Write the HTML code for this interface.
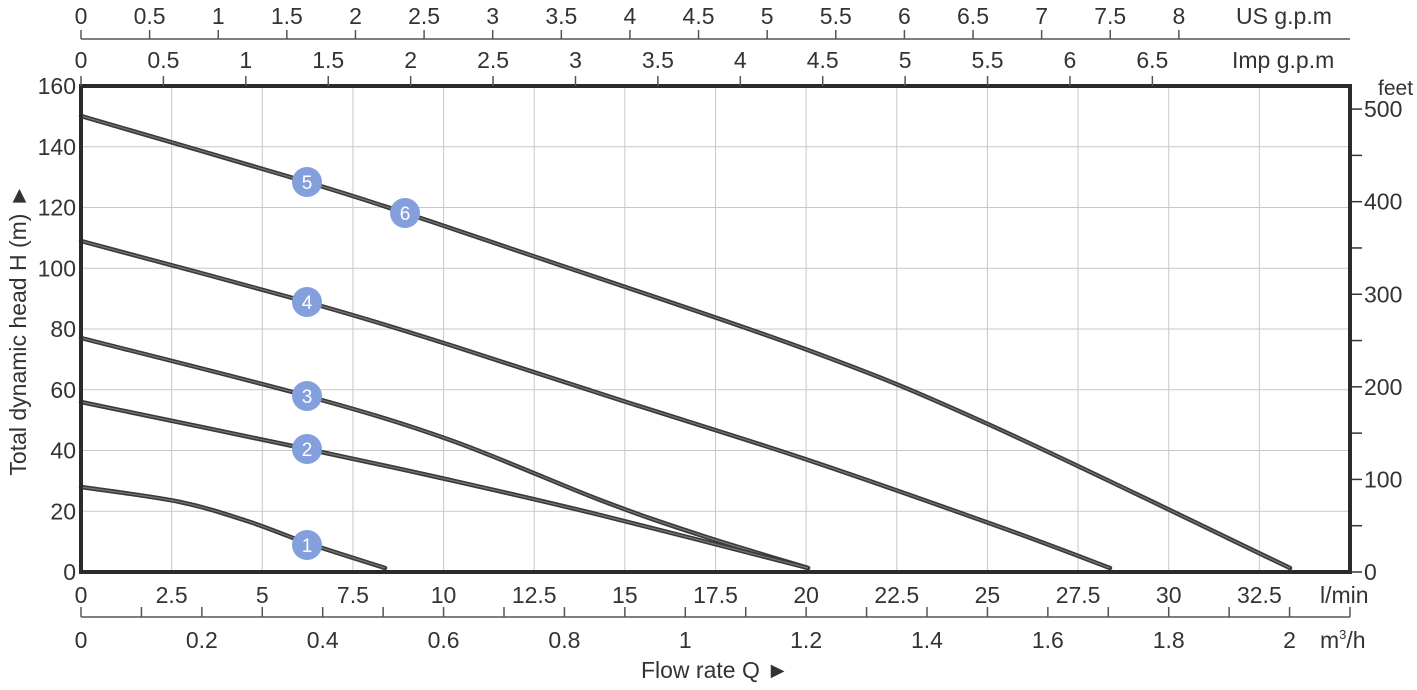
<!DOCTYPE html>
<html><head><meta charset="utf-8"><style>
html,body{margin:0;padding:0;background:#fff}
svg text{font-family:"Liberation Sans",sans-serif;fill:#333}
</style></head><body>
<svg id="s" width="1417" height="685" xmlns="http://www.w3.org/2000/svg"></svg>
<script>
const s=document.getElementById('s');let h='';
const X0=81,X1=1350,Y0=572,Y1=86;
const px=q=>X0+q*(X1-X0)/35, py=m=>Y0-m*(Y0-Y1)/160;
for(let q=2.5;q<35;q+=2.5)h+=`<line x1="${px(q)}" y1="${Y1}" x2="${px(q)}" y2="${Y0}" stroke="#c8c8c8" stroke-width="1"/>`;
for(let m=20;m<160;m+=20)h+=`<line x1="${X0}" y1="${py(m)}" x2="${X1}" y2="${py(m)}" stroke="#c8c8c8" stroke-width="1"/>`;
const curves=[
[[81,116],[307,182],[405,213],[530,255],[805,349],[990,425],[1290,568]],
[[81,241],[307,302],[450,345],[620,400],[805,459],[1000,527],[1110,568]],
[[81,338],[307,396],[450,440],[600,500],[700,535],[808,568]],
[[81,402],[307,449],[450,480],[600,515],[808,568]],
[[81,487],[180,502],[250,522],[307,543],[385,568]]];
function path(p){let d=`M${p[0][0]},${p[0][1]}`;for(let i=1;i<p.length;i++){const a=p[Math.max(0,i-2)],b=p[i-1],c=p[i],e=p[Math.min(p.length-1,i+1)];d+=` C${b[0]+(c[0]-a[0])/6},${b[1]+(c[1]-a[1])/6} ${c[0]-(e[0]-b[0])/6},${c[1]-(e[1]-b[1])/6} ${c[0]},${c[1]}`;}return d;}
for(const c of curves){h+=`<path d="${path(c)}" fill="none" stroke="#3a3a3a" stroke-width="4.5" stroke-linecap="round"/><path d="${path(c)}" fill="none" stroke="#777" stroke-width="1.2"/>`;}
for(const [x,y,t] of [[307,182,5],[405,213,6],[307,302,4],[307,396,3],[307,449,2],[307,545,1]])
h+=`<circle cx="${x}" cy="${y}" r="15" fill="#84a0dc"/><text x="${x}" y="${y+7}" font-size="19" text-anchor="middle" style="fill:#fff">${t}</text>`;
h+=`<rect x="${X0}" y="${Y1}" width="${X1-X0}" height="${Y0-Y1}" fill="none" stroke="#2b2b2b" stroke-width="4"/>`;
for(let m=0;m<=160;m+=20)h+=`<text x="76" y="${py(m)+8}" font-size="23" text-anchor="end">${m}</text>`;
h+=`<text transform="translate(26,330) rotate(-90)" font-size="23" text-anchor="middle">Total dynamic head H (m) ►</text>`;
for(let f=0;f<=500;f+=50){const y=Y0-f*0.3048*(Y0-Y1)/160;h+=`<line x1="${X1}" y1="${y}" x2="${X1+12}" y2="${y}" stroke="#333" stroke-width="1.5"/>`;if(f%100==0)h+=`<text x="${X1+14}" y="${y+8}" font-size="23">${f}</text>`;}
h+=`<text x="1378" y="95" font-size="21">feet</text>`;
for(let q=0;q<=32.5;q+=2.5)h+=`<text x="${px(q)}" y="603" font-size="23" text-anchor="middle">${q}</text>`;
h+=`<text x="1320" y="603" font-size="23">l/min</text>`;
h+=`<line x1="${X0}" y1="617" x2="${X1}" y2="617" stroke="#555" stroke-width="1.5"/>`;
for(let i=0;i<=21;i++){const x=i==21?X1:px(i*0.1*1000/60);h+=`<line x1="${x}" y1="607" x2="${x}" y2="617" stroke="#555" stroke-width="1.5"/>`;}
for(let i=0;i<=10;i++){const v=i*0.2;h+=`<text x="${px(v*1000/60)}" y="648" font-size="23" text-anchor="middle">${+v.toFixed(1)}</text>`;}
h+=`<text x="1320" y="648" font-size="23">m<tspan dy="-9" font-size="13">3</tspan><tspan dy="9">/h</tspan></text>`;
h+=`<text x="715" y="678" font-size="23" text-anchor="middle">Flow rate Q ►</text>`;
h+=`<line x1="${X0}" y1="39" x2="${X1}" y2="39" stroke="#555" stroke-width="1.5"/>`;
for(let g=0;g<=8;g+=0.5){const x=px(g*3.785);h+=`<line x1="${x}" y1="30" x2="${x}" y2="39" stroke="#555" stroke-width="1.5"/><text x="${x}" y="24" font-size="23" text-anchor="middle">${g}</text>`;}
h+=`<text x="1236" y="24" font-size="23">US g.p.m</text>`;
for(let g=0;g<=6.5;g+=0.5){const x=px(g*4.546);h+=`<line x1="${x}" y1="76" x2="${x}" y2="86" stroke="#555" stroke-width="1.5"/><text x="${x}" y="68" font-size="23" text-anchor="middle">${g}</text>`;}
h+=`<text x="1232" y="68" font-size="23">Imp g.p.m</text>`;
s.innerHTML=h;
</script>
</body></html>
